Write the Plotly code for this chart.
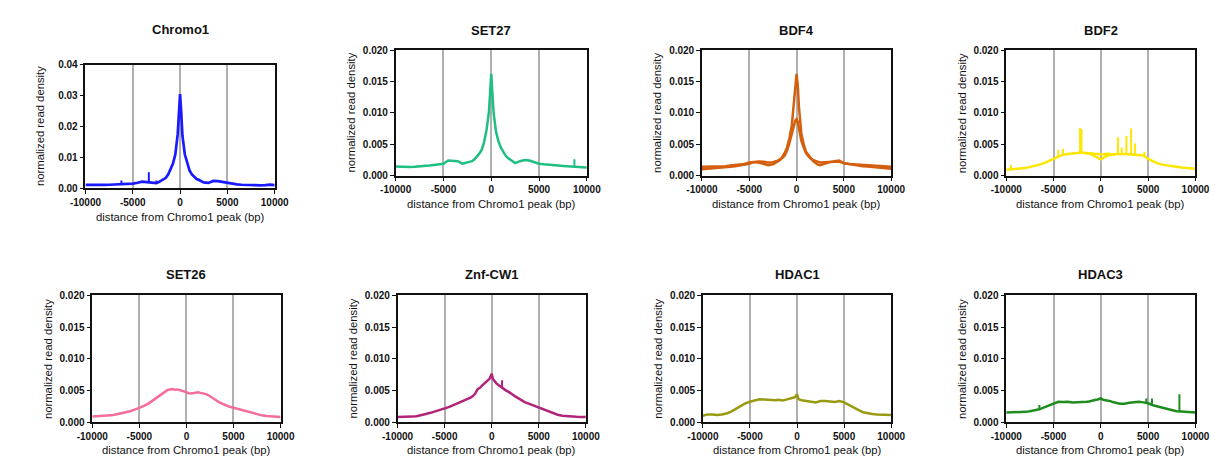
import plotly.graph_objects as go

# ---------------- data ----------------
distance_bp = [-10000, -9500, -9000, -8500, -8000, -7500, -7000, -6500, -6000, -5500, -5000, -4500, -4000, -3500, -3000, -2500,
               -2250, -2000, -1750, -1500, -1250, -1000, -750, -500, -250, -125, 0, 125, 250, 500, 750, 1000, 1250, 1500, 1750, 2000, 2250,
               2500, 3000, 3500, 4000, 4500, 5000, 5500, 6000, 6500, 7000, 7500, 8000, 8500, 9000, 9500, 10000]

chromo1 = [.00110, .00105, .00112, .00100, .00108, .00115, .00120, .00125, .00130, .00140, .00150, .00180, .00215, .00200, .00185, .00170,
           .00200, .00240, .00290, .00340, .00450, .00600, .00800, .01100, .01750, .02400, .03050, .02450, .01700, .01100, .00800, .00580, .00450, .00360, .00300, .00270, .00220,
           .00190, .00175, .00240, .00230, .00200, .00170, .00145, .00125, .00115, .00105, .00100, .00100, .00095, .00100, .00120, .00105]

set27 = [.00145, .00140, .00140, .00138, .00142, .00145, .00150, .00160, .00170, .00180, .00190, .00240, .00240, .00230, .00190, .00210,
         .00220, .00230, .00260, .00300, .00350, .00410, .00530, .00720, .01000, .01300, .01620, .01300, .01000, .00700, .00550, .00450, .00380, .00320, .00280, .00250, .00220,
         .00200, .00230, .00250, .00240, .00215, .00190, .00180, .00170, .00165, .00160, .00155, .00150, .00145, .00140, .00135, .00130]

bdf4_a = [.00100, .00105, .00110, .00115, .00125, .00130, .00140, .00150, .00160, .00175, .00190, .00215, .00210, .00190, .00165, .00180,
          .00200, .00220, .00250, .00300, .00360, .00450, .00600, .00800, .01200, .01500, .01620, .01450, .01100, .00680, .00500, .00380, .00320, .00280, .00230, .00200, .00175,
          .00165, .00195, .00215, .00230, .00240, .00200, .00185, .00170, .00160, .00150, .00145, .00140, .00130, .00120, .00115, .00110]

bdf4_b = [.00140, .00140, .00145, .00145, .00150, .00150, .00160, .00165, .00175, .00185, .00210, .00220, .00225, .00220, .00210, .00215,
          .00225, .00240, .00260, .00280, .00320, .00400, .00520, .00650, .00800, .00880, .00900, .00860, .00760, .00560, .00450, .00360, .00310, .00270, .00250, .00230, .00220,
          .00210, .00210, .00215, .00220, .00225, .00195, .00185, .00180, .00170, .00160, .00155, .00150, .00145, .00140, .00140, .00140]

bdf2_a = [.00095, .00105, .00110, .00115, .00120, .00135, .00155, .00175, .00200, .00235, .00270, .00310, .00335, .00345, .00355, .00360,
          .00365, .00370, .00365, .00360, .00350, .00340, .00320, .00300, .00280, .00270, .00260, .00270, .00285, .00305, .00320, .00330, .00335, .00340, .00345, .00350, .00345,
          .00345, .00340, .00335, .00330, .00320, .00265, .00225, .00195, .00175, .00160, .00150, .00140, .00130, .00120, .00115, .00110]

bdf2_inner_bp = [-1500, -1250, -1000, -750, -500, -250, -125, 0, 125, 250, 500, 750, 1000, 1250, 1500]
bdf2_b_inner = [.00360, .00355, .00355, .00350, .00345, .00340, .00335, .00330, .00335, .00340, .00350, .00350, .00345, .00340, .00340]

set26 = [.00085, .00088, .00090, .00095, .00105, .00120, .00135, .00150, .00170, .00195, .00220, .00255, .00295, .00350, .00410, .00455,
         .00480, .00505, .00515, .00520, .00510, .00515, .00505, .00500, .00485, .00475, .00465, .00460, .00455, .00450, .00455, .00460, .00470, .00460, .00455, .00445, .00430,
         .00410, .00360, .00310, .00275, .00245, .00225, .00205, .00180, .00160, .00135, .00115, .00105, .00095, .00090, .00085, .00080]

znf_cw1 = [.00080, .00080, .00082, .00085, .00092, .00105, .00125, .00145, .00165, .00190, .00215, .00240, .00270, .00300, .00330, .00365,
           .00385, .00410, .00450, .00520, .00540, .00580, .00610, .00640, .00680, .00720, .00760, .00680, .00650, .00610, .00580, .00550, .00520, .00500, .00480, .00460, .00430,
           .00405, .00355, .00315, .00285, .00255, .00230, .00200, .00170, .00140, .00115, .00100, .00090, .00085, .00082, .00080, .00078]

hdac1 = [.00100, .00120, .00120, .00110, .00118, .00135, .00165, .00210, .00255, .00295, .00320, .00345, .00360, .00355, .00350, .00340,
         .00345, .00350, .00345, .00340, .00350, .00360, .00370, .00380, .00390, .00410, .00440, .00370, .00355, .00345, .00340, .00335, .00330, .00320, .00315, .00310, .00320,
         .00330, .00330, .00325, .00315, .00330, .00310, .00270, .00225, .00190, .00155, .00135, .00125, .00120, .00115, .00110, .00110]

hdac3 = [.00150, .00150, .00150, .00155, .00160, .00170, .00180, .00200, .00230, .00260, .00285, .00320, .00315, .00320, .00310, .00310,
         .00310, .00315, .00310, .00320, .00325, .00330, .00340, .00350, .00360, .00365, .00375, .00360, .00350, .00345, .00340, .00330, .00315, .00305, .00295, .00290, .00290,
         .00290, .00305, .00315, .00320, .00310, .00295, .00265, .00245, .00225, .00205, .00185, .00170, .00165, .00160, .00155, .00150]

# narrow spikes: position, base and top values
chromo1_spike_bp = [-6200, -3300, -2500, 2000]
chromo1_spike_base = [.0013, .0019, .0017, .0027]
chromo1_spike_top = [.0025, .0052, .0025, .0031]

set27_spike_bp = [8700]
set27_spike_base = [.0015]
set27_spike_top = [.0026]

bdf2_spike_bp = [-9500, -4500, -4000, -2200, -2050, 1800, 2200, 2700, 3200, 3600, 4600]
bdf2_spike_base = [.0010, .0031, .0034, .0037, .0037, .0034, .0035, .0035, .0034, .0034, .0032]
bdf2_spike_top = [.0017, .0041, .0043, .0076, .0074, .0061, .0045, .0063, .0075, .0051, .0038]

znf_spike_bp = [1100]
znf_spike_base = [.0053]
znf_spike_top = [.0066]

hdac3_spike_bp = [-6500, 4800, 5400, 8300]
hdac3_spike_base = [.0020, .0030, .0027, .0017]
hdac3_spike_top = [.0027, .0037, .0037, .0044]

panel_titles = ["Chromo1", "SET27", "BDF4", "BDF2", "SET26", "Znf-CW1", "HDAC1", "HDAC3"]
x_ticks = [-10000, -5000, 0, 5000, 10000]
y_ticks_small = [0, 0.005, 0.010, 0.015, 0.020]
y_ticks_chromo1 = [0, 0.01, 0.02, 0.03, 0.04]

# ---------------- figure ----------------
W, H = 1221, 457
FONT = "Liberation Sans, Arial, sans-serif"

# panel boxes in pixels: (left, right, top, bottom)
boxes = [
    (63, 257, 52, 179),
    (381, 577, 37, 166),
    (695, 889, 37, 166),
    (1007, 1201, 37, 166),
    (70, 263, 289, 419),
    (383, 576, 289, 419),
    (696, 889, 289, 419),
    (1007, 1201, 289, 419),
]

colors = ["#1a1aff", "#1fbf82", "#d4600e", "#ffe600", "#f56d9a", "#b0247a", "#9a9a12", "#1f8c1f"]

series = [
    [chromo1], [set27], [bdf4_a, bdf4_b], [bdf2_a],
    [set26], [znf_cw1], [hdac1], [hdac3],
]
spikes = {
    0: (chromo1_spike_bp, chromo1_spike_base, chromo1_spike_top),
    1: (set27_spike_bp, set27_spike_base, set27_spike_top),
    3: (bdf2_spike_bp, bdf2_spike_base, bdf2_spike_top),
    5: (znf_spike_bp, znf_spike_base, znf_spike_top),
    7: (hdac3_spike_bp, hdac3_spike_base, hdac3_spike_top),
}

fig = go.Figure()
annotations = []
layout = {}

for i, (title, box) in enumerate(zip(panel_titles, boxes)):
    n = i + 1
    xa = "x" if n == 1 else f"x{n}"
    ya = "y" if n == 1 else f"y{n}"
    l, r, t, b = box
    col = colors[i]
    lw = 2.7 if i == 0 else 2.5
    for vals in series[i]:
        fig.add_trace(go.Scatter(x=distance_bp, y=vals, mode="lines",
                                 line=dict(color=col, width=lw),
                                 xaxis=xa, yaxis=ya, showlegend=False))
    if i == 3:
        fig.add_trace(go.Scatter(x=bdf2_inner_bp, y=bdf2_b_inner, mode="lines",
                                 line=dict(color=col, width=lw),
                                 xaxis=xa, yaxis=ya, showlegend=False))
    if i in spikes:
        sx, sb, st = spikes[i]
        xs, ys = [], []
        for p, lo, hi in zip(sx, sb, st):
            xs += [p, p, None]
            ys += [lo, hi, None]
        fig.add_trace(go.Scatter(x=xs, y=ys, mode="lines",
                                 line=dict(color=col, width=2),
                                 xaxis=xa, yaxis=ya, showlegend=False))

    if i == 0:
        yt = y_ticks_chromo1
        ytxt = [f"{v:.2f}" for v in yt]
        yr = [0, 0.04]
    else:
        yt = y_ticks_small
        ytxt = [f"{v:.3f}" for v in yt]
        yr = [0, 0.020]

    axis_common = dict(showline=True, linecolor="#111111", linewidth=1.5, mirror=True,
                       ticks="outside", ticklen=4, tickwidth=1.3, tickcolor="#111111",
                       zeroline=False,
                       tickfont=dict(family=FONT, size=10, color="#111111", weight="bold"))
    layout["xaxis" if n == 1 else f"xaxis{n}"] = dict(
        domain=[l / W, r / W], anchor=ya, range=[-10000, 10000],
        tickvals=x_ticks, ticktext=[str(v) for v in x_ticks],
        showgrid=True, gridcolor="#b0b0b0", gridwidth=1.5, **axis_common)
    layout["yaxis" if n == 1 else f"yaxis{n}"] = dict(
        domain=[1 - b / H, 1 - t / H], anchor=xa, range=yr,
        tickvals=yt, ticktext=ytxt, showgrid=False, **axis_common)

    cx = (l + r) / 2 / W
    title_y = 16 if i == 0 else (17 if i < 4 else 268)
    annotations.append(dict(text=f"<b>{title}</b>", x=cx, y=1 - title_y / H, xref="paper", yref="paper",
                            showarrow=False, xanchor="center", yanchor="middle",
                            font=dict(family=FONT, size=13, color="#111111")))
    annotations.append(dict(text="distance from Chromo1 peak (bp)", x=cx, y=1 - (b + 29) / H,
                            xref="paper", yref="paper", showarrow=False,
                            xanchor="center", yanchor="middle",
                            font=dict(family=FONT, size=11.3, color="#111111")))
    annotations.append(dict(text="normalized read density", x=(l - 46) / W, y=1 - ((t + b) / 2) / H,
                            xref="paper", yref="paper", showarrow=False, textangle=-90,
                            xanchor="center", yanchor="middle",
                            font=dict(family=FONT, size=11.3, color="#111111")))

fig.update_layout(width=W, height=H, margin=dict(l=0, r=0, t=0, b=0),
                  paper_bgcolor="white", plot_bgcolor="white",
                  annotations=annotations, **layout)

fig.write_html("out.html")
